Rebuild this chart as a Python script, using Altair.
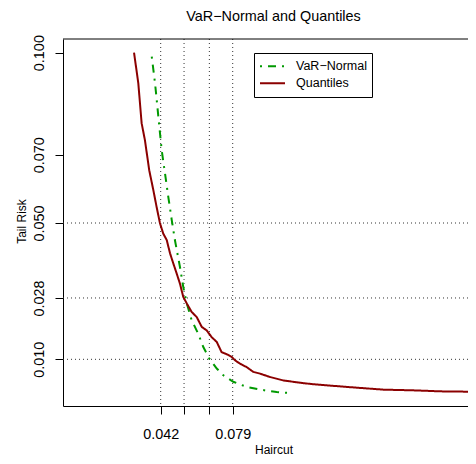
import altair as alt
import pandas as pd

FONT = "Liberation Sans"

# Quantiles curve (empirical)
q_haircut = [0.0283, 0.0305, 0.0322, 0.0339, 0.0361, 0.0382, 0.0399, 0.0416, 0.0433, 0.0451,
             0.0468, 0.0485, 0.0502, 0.0519, 0.0536, 0.0554, 0.0579, 0.0605, 0.0631, 0.0656,
             0.0682, 0.0708, 0.0733, 0.0759, 0.0785, 0.0802, 0.0828, 0.0862, 0.0896, 0.0930,
             0.0982, 0.1050, 0.1153, 0.1222, 0.1376, 0.1564, 0.1717, 0.1856, 0.2000]
q_risk = [0.1000, 0.0910, 0.0793, 0.0743, 0.0655, 0.0597, 0.0547, 0.0500, 0.0469, 0.0450,
          0.0411, 0.0381, 0.0352, 0.0322, 0.0283, 0.0264, 0.0239, 0.0224, 0.0195, 0.0185,
          0.0165, 0.0151, 0.0121, 0.0115, 0.0107, 0.0097, 0.0087, 0.0077, 0.0063, 0.0058,
          0.0048, 0.0038, 0.0030, 0.0026, 0.0019, 0.0011, 0.0009, 0.0006, 0.0005]

# VaR-Normal curve
n_haircut = [0.0374, 0.0391, 0.0408, 0.0425, 0.0442, 0.0459, 0.0477, 0.0493, 0.0519, 0.0536,
             0.0554, 0.0579, 0.0613, 0.0639, 0.0670, 0.0708, 0.0742, 0.0793, 0.0862, 0.0930,
             0.1016, 0.1084]
n_risk = [0.0988, 0.0910, 0.0812, 0.0714, 0.0646, 0.0577, 0.0508, 0.0450, 0.0371, 0.0312,
          0.0264, 0.0215, 0.0175, 0.0136, 0.0102, 0.0073, 0.0053, 0.0034, 0.0019, 0.0011,
          0.0004, 0.0001]

series_names = ["VaR\u2212Normal", "Quantiles"]
series_colors = ["#009900", "#8B0000"]
series_dash = [[2, 6, 8, 6], [1, 0]]

risk_levels = [0.050, 0.028, 0.010]
haircut_marks = [0.042, 0.054, 0.067, 0.079]
haircut_labels = [0.042, 0.079]
y_ticks = [0.010, 0.028, 0.050, 0.070, 0.100]

# plot area spans x from 63px to 468px (page), y from 39px to 406px
x_domain = [-0.0082, 0.1999]
y_domain = [-0.0037, 0.1040]

rows = []
for h, r in zip(n_haircut, n_risk):
    rows.append({"haircut": h, "risk": r, "series": series_names[0], "order": len(rows)})
for h, r in zip(q_haircut, q_risk):
    rows.append({"haircut": h, "risk": r, "series": series_names[1], "order": len(rows)})
curves = pd.DataFrame(rows)
hdf = pd.DataFrame({"risk": risk_levels})
vdf = pd.DataFrame({"haircut": haircut_marks})
topdf = pd.DataFrame({"risk": [y_domain[1]]})

xscale = alt.Scale(domain=x_domain, nice=False, zero=False)
yscale = alt.Scale(domain=y_domain, nice=False, zero=False)

show_cond = " || ".join(f"abs(datum.value - {v}) < 0.000001" for v in haircut_labels)
x_axis = alt.Axis(
    values=haircut_marks, format=".3f",
    labelExpr=f"({show_cond}) ? datum.label : ''",
    title="Haircut", titleFont=FONT, titleFontSize=12, titleFontWeight="normal",
    titleColor="black", titleX=210.5, titleY=47, titleBaseline="alphabetic",
    labelFont=FONT, labelFontSize=14.4, labelColor="black",
    labelBaseline="alphabetic", labelPadding=24,
    tickSize=8, tickColor="black", domainColor="black", grid=False,
)
y_axis = alt.Axis(
    values=y_ticks, format=".3f",
    title="Tail Risk", titleFont=FONT, titleFontSize=12, titleFontWeight="normal",
    titleColor="black", titleAngle=270, titleX=-38, titleY=182,
    titleAlign="center", titleBaseline="alphabetic",
    labelFont=FONT, labelFontSize=14.4, labelColor="black",
    labelAngle=270, labelAlign="center", labelBaseline="alphabetic", labelPadding=12,
    tickSize=8, tickColor="black", domainColor="black", grid=False,
)

hrules = alt.Chart(hdf).mark_rule(color="#333333", strokeDash=[1, 3], strokeWidth=1).encode(
    y=alt.Y("risk:Q", scale=yscale, axis=y_axis)
)
vrules = alt.Chart(vdf).mark_rule(color="#333333", strokeDash=[1, 3], strokeWidth=1).encode(
    x=alt.X("haircut:Q", scale=xscale, axis=x_axis)
)
top_border = alt.Chart(topdf).mark_rule(color="black", strokeWidth=1).encode(
    y=alt.Y("risk:Q", scale=yscale, axis=y_axis)
)
lines = alt.Chart(curves).mark_line(strokeWidth=2, clip=True).encode(
    x=alt.X("haircut:Q", scale=xscale, axis=x_axis),
    y=alt.Y("risk:Q", scale=yscale, axis=y_axis),
    order="order:Q",
    color=alt.Color("series:N", scale=alt.Scale(domain=series_names, range=series_colors),
                    legend=alt.Legend(
                        title=None, orient="none", legendX=191, legendY=14,
                        direction="vertical",
                        labelFont=FONT, labelFontSize=12.5, labelColor="black",
                        symbolType="stroke", symbolSize=625, symbolStrokeWidth=2,
                        labelOffset=10, clipHeight=16.6, rowPadding=0, padding=5,
                        strokeColor="black", fillColor="white",
                        labelLimit=200,
                    )),
    strokeDash=alt.StrokeDash("series:N", scale=alt.Scale(domain=series_names, range=series_dash),
                              legend=None),
)

chart = alt.layer(hrules, vrules, top_border, lines).properties(
    width=405, height=367,
    background="white",
    title=alt.TitleParams("VaR\u2212Normal and Quantiles", font=FONT, fontSize=14.4,
                          fontWeight="normal", color="black", anchor="middle",
                          frame="group", baseline="alphabetic", offset=6, dx=8, dy=7),
    autosize=alt.AutoSizeParams(type="none"),
    padding={"left": 55, "top": 31, "right": 0, "bottom": 50},
).configure_view(stroke=None)

chart.save("out.html", embed_options={"renderer": "svg", "actions": False})
